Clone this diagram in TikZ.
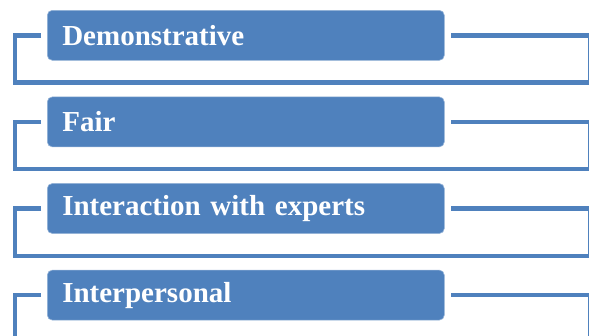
\documentclass[tikz,border=0pt]{standalone}
\usepackage{fontspec}
\setmainfont{Liberation Serif}
\usetikzlibrary{positioning}
\definecolor{itemblue}{RGB}{79,129,189}
\tikzstyle{item}=[draw=itemblue!60!white,line width=0.6pt,fill=itemblue,rounded corners=5pt,text=white,
  text width=367pt,inner xsep=15pt,minimum height=50pt,align=left,
  font=\fontsize{29}{31}\selectfont\bfseries]
\tikzstyle{frame}=[draw=itemblue,line width=4.5pt]

\begin{document}
\begin{tikzpicture}[node distance=36pt]
    \useasboundingbox (0,0) rectangle (589pt,-335pt);

    \node[item, anchor=north west] (demo) at (47pt,-10pt) {Demonstrative};
    \node[item, below=of demo] (fair) {Fair};
    \node[item, below=of fair] (experts) {Interaction with experts};
    \node[item, below=of experts] (inter) {Interpersonal};

    % brackets round each item
    \draw[frame] ([xshift=-6pt]demo.west) -| ([xshift=-32pt,yshift=-22pt]demo.south west)
        -| ([xshift=146pt,yshift=-22pt]demo.south east) |- ([xshift=6pt]demo.east);
    \draw[frame] ([xshift=-6pt]fair.west) -| ([xshift=-32pt,yshift=-22pt]fair.south west)
        -| ([xshift=146pt,yshift=-22pt]fair.south east) |- ([xshift=6pt]fair.east);
    \draw[frame] ([xshift=-6pt]experts.west) -| ([xshift=-32pt,yshift=-22pt]experts.south west)
        -| ([xshift=146pt,yshift=-22pt]experts.south east) |- ([xshift=6pt]experts.east);
    \draw[frame] ([xshift=-6pt]inter.west) -| ([xshift=-32pt,yshift=-22pt]inter.south west)
        -| ([xshift=146pt,yshift=-22pt]inter.south east) |- ([xshift=6pt]inter.east);
\end{tikzpicture}
\end{document}
